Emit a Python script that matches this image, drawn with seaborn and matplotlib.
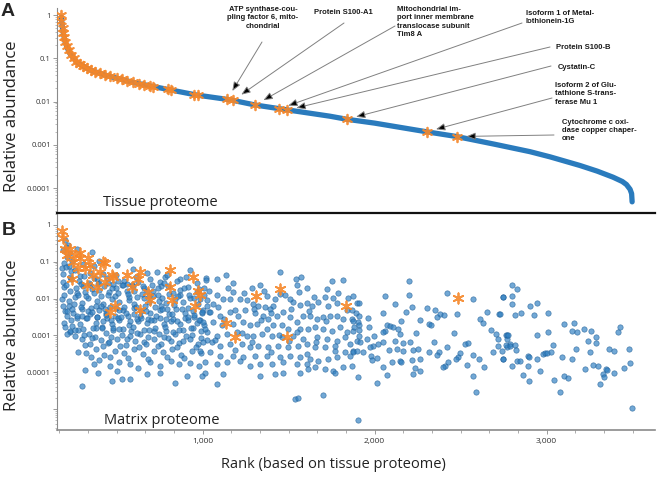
import numpy as np
import pandas as pd
import matplotlib
matplotlib.use("Agg")
import matplotlib.pyplot as plt
import matplotlib.ticker as mticker
import seaborn as sns

sns.set_theme(style="white")
plt.rcParams["font.family"] = ["Open Sans", "DejaVu Sans"]

# ---------------- data (abundances stored as log10) ----------------
# A: tissue proteome, ranked abundance curve
curve_rank = [178, 185, 190, 200, 215, 228, 250, 266, 300, 325,
              365, 403, 450, 500, 597, 694, 810, 964, 1159, 1304,
              1469, 1740, 1837, 2000, 2302, 2477, 2700, 2903, 3020, 3194,
              3294, 3386, 3440, 3464, 3485, 3494, 3497]
curve_log = [-0.05, -0.30, -0.42, -0.62, -0.78, -0.89, -1.00, -1.08, -1.17, -1.23,
             -1.30, -1.35, -1.41, -1.46, -1.56, -1.64, -1.73, -1.85, -1.96, -2.08,
             -2.18, -2.34, -2.41, -2.50, -2.70, -2.81, -2.99, -3.16, -3.28, -3.48,
             -3.61, -3.75, -3.85, -3.92, -4.03, -4.13, -4.32]

# A: proteins also found in matrix (orange asterisks)
a_star_rank = [178, 178, 185, 190, 195, 200, 210, 220, 235, 250,
               266, 285, 305, 325, 350, 375, 403, 430, 460, 500,
               530, 560, 597, 630, 660, 694, 712, 800, 815, 950,
               975, 1143, 1178, 1304, 1444, 1490, 1837, 2302, 2477]
a_star_log = [0.0, -0.15, -0.30, -0.42, -0.52, -0.62, -0.72, -0.82, -0.92, -1.00,
              -1.08, -1.13, -1.18, -1.23, -1.28, -1.32, -1.35, -1.39, -1.42, -1.46,
              -1.49, -1.52, -1.56, -1.59, -1.61, -1.64, -1.66, -1.72, -1.74, -1.84,
              -1.86, -1.95, -1.97, -2.08, -2.17, -2.20, -2.41, -2.70, -2.81]

labeled_names = ["ATP synthase-cou-\npling factor 6, mito-\nchondrial",
                 "Protein S100-A1",
                 "Mitochondrial im-\nport inner membrane\ntranslocase subunit\nTim8 A",
                 "Isoform 1 of Metal-\nlothionein-1G",
                 "Protein S100-B",
                 "Cystatin-C",
                 "Isoform 2 of Glu-\ntathione S-trans-\nferase Mu 1",
                 "Cytochrome c oxi-\ndase copper chaper-\none"]
labeled_rank = [1143, 1178, 1304, 1444, 1490, 1837, 2302, 2477]

# B: matrix proteome (blue points), grouped by region of the plot
left_rank = [199, 219, 190, 231, 267, 354, 205, 212, 243, 182,
             192, 221, 306, 368, 399, 503, 577, 592, 674, 735, 781, 871, 926,
             187, 229, 289, 342, 386, 444, 497, 541, 613, 696, 749, 793, 851, 904, 968, 1020,
             192, 226, 270, 303, 357, 400, 454, 497, 561, 603, 658, 710, 755, 807, 871, 913, 968, 1010,
             181, 221, 255, 299, 332, 386, 419, 474, 516, 570, 603, 658, 690, 745, 787, 842, 884, 929, 971, 1026,
             201, 246, 299, 342, 396, 438, 493, 535, 600, 642, 696, 749, 803, 845, 900, 942, 997, 1035,
             192, 235, 289, 322, 377, 419, 474, 516, 570, 623, 677, 719, 774, 816, 871, 913, 968, 1010,
             230, 274, 338, 380, 435, 477, 532, 584, 638, 690, 745, 787, 842, 884, 939, 991,
             299, 342, 406, 448, 503, 555, 609, 661, 716, 758, 813, 865, 929, 971, 1026,
             322, 377, 429, 493, 545, 600, 652, 716, 768, 822, 875, 939, 991,
             367, 400, 464, 516, 580, 623, 696, 749, 813, 865, 929, 981,
             315, 393, 500, 577, 674, 529, 752, 839, 907, 1013, 471, 300, 228, 275, 214]
left_log = [-0.41, -0.55, -0.68, -0.75, -0.64, -0.73, -0.59, -0.88, -0.97, -1.18,
            -1.02, -1.11, -1.05, -1.12, -0.99, -1.10, -0.96, -1.20, -1.30, -1.27, -1.42, -1.47, -1.23,
            -1.34, -1.40, -1.38, -1.31, -1.48, -1.44, -1.36, -1.52, -1.40, -1.47, -1.56, -1.35, -1.51, -1.40, -1.57, -1.43,
            -1.69, -1.79, -1.84, -1.66, -1.75, -1.77, -1.83, -1.70, -1.80, -1.79, -1.71, -1.80, -1.66, -1.88, -1.76, -1.69, -1.83, -1.72,
            -2.01, -2.06, -1.95, -2.11, -1.99, -2.07, -2.15, -2.01, -2.10, -2.03, -2.16, -1.98, -2.10, -2.06, -2.13, -2.02, -2.08, -1.99, -2.15, -2.04,
            -2.33, -2.38, -2.27, -2.43, -2.31, -2.39, -2.47, -2.30, -2.42, -2.33, -2.40, -2.31, -2.43, -2.27, -2.38, -2.34, -2.40, -2.36,
            -2.66, -2.59, -2.70, -2.54, -2.65, -2.62, -2.68, -2.58, -2.71, -2.61, -2.67, -2.59, -2.70, -2.62, -2.68, -2.58, -2.65, -2.71,
            -2.92, -2.86, -2.97, -2.81, -2.93, -2.86, -2.98, -2.88, -2.95, -2.86, -2.97, -2.89, -2.95, -2.85, -2.98, -2.88,
            -3.11, -3.24, -3.13, -3.20, -3.09, -3.25, -3.15, -3.18, -3.11, -3.22, -3.15, -3.20, -3.09, -3.24, -3.13,
            -3.47, -3.36, -3.52, -3.41, -3.47, -3.38, -3.50, -3.43, -3.45, -3.36, -3.52, -3.41, -3.47,
            -3.79, -3.68, -3.84, -3.72, -3.79, -3.88, -3.72, -3.84, -3.70, -3.77, -3.74, -3.82,
            -3.93, -4.01, -3.96, -4.19, -4.05, -4.19, -4.01, -4.28, -4.10, -4.01, -4.23, -4.37, -2.89, -3.46, -2.95]

fill_rank = [205, 232, 258, 281, 312, 338, 367, 392, 418, 447, 473, 509, 532, 561, 588, 623, 647, 706, 741, 776,
             196, 224, 252, 274, 299, 323, 351, 377, 409, 433, 462, 488, 514, 544, 572, 601, 633, 662, 688, 721,
             757, 795, 834, 871, 912, 951, 1003,
             213, 243, 271, 306, 331, 362, 388, 415, 445, 478, 506, 535, 567, 595, 621, 657, 681, 718, 752, 783,
             826, 860, 899, 944, 985,
             259, 318, 372, 421, 468, 521, 575, 629, 684, 739, 797, 853, 905, 962, 348, 459, 566, 685, 794, 892,
             186, 208, 237, 262, 291, 316, 344, 371, 397, 426, 452, 481, 507, 538, 566, 594, 619, 651, 679, 709,
             738, 766, 799, 828, 858, 889, 918, 949, 979, 1007,
             189, 214, 241, 268, 294, 327, 356, 384, 411, 440, 466, 495, 523, 552, 579, 611, 640, 668, 700, 730,
             762, 789, 821, 853, 882, 915, 947, 977,
             202, 256, 311, 359, 412, 457, 511, 562, 617, 668, 723, 777, 830, 884, 935, 990]
fill_log = [-1.15, -1.26, -1.21, -1.52, -1.38, -1.57, -1.44, -1.61, -1.33, -1.58, -1.71, -1.52, -1.64, -1.59, -1.62, -1.55, -1.88, -1.64, -1.91, -1.58,
            -1.91, -2.21, -2.14, -1.89, -2.47, -1.93, -2.26, -2.19, -1.92, -2.27, -2.22, -1.94, -2.31, -2.23, -1.95, -2.26, -2.47, -2.20, -1.93, -2.24,
            -2.19, -2.29, -2.17, -1.90, -2.25, -2.51, -2.30,
            -2.48, -2.75, -2.52, -2.83, -2.33, -2.79, -2.50, -2.76, -2.53, -2.80, -2.52, -2.82, -2.47, -2.78, -2.55, -2.84, -2.56, -2.88, -2.52, -2.77,
            -2.55, -2.84, -2.53, -2.79, -2.57,
            -3.02, -3.27, -3.05, -3.29, -3.03, -3.30, -3.02, -3.31, -3.04, -3.29, -3.06, -3.32, -3.02, -3.31, -3.60, -3.59, -3.62, -3.64, -3.58, -3.62,
            -1.55, -1.62, -1.48, -1.71, -1.60, -1.83, -1.64, -1.86, -1.58, -1.66, -1.90, -1.61, -1.85, -1.63, -1.88, -1.67, -1.95, -1.65, -1.80, -1.92,
            -1.70, -1.97, -1.66, -1.84, -1.93, -1.71, -1.89, -1.99, -1.74, -1.90,
            -2.20, -2.35, -2.28, -2.48, -2.22, -2.53, -2.36, -2.49, -2.21, -2.44, -2.57, -2.26, -2.51, -2.38, -2.60, -2.24, -2.52, -2.35, -2.58, -2.46,
            -2.28, -2.55, -2.42, -2.62, -2.29, -2.50, -2.44, -2.59,
            -2.78, -2.84, -3.00, -3.08, -2.80, -3.17, -2.83, -3.10, -2.93, -3.22, -2.79, -3.05, -2.92, -3.16, -2.81, -3.08]

mid_rank = [1449, 1135, 1081, 1178, 1017, 1284, 1333, 1372, 1540, 1571,
            1546, 1604, 1750, 1817, 1720, 1711, 1755, 1782, 1846, 1872,
            1895, 1649, 1637, 1604, 1565, 1527, 1507, 1478, 1420, 1410,
            1391, 1362, 1323, 1294, 1255, 1217, 1178, 1158, 1120, 1081,
            1062, 1023, 984, 994, 1042, 1100, 1158, 1207, 1246, 1304,
            1352, 1381, 1430, 1469, 1507, 1546, 1585, 1624, 1662, 1701,
            1740, 1779, 1817, 1866, 1905, 1003, 1062, 1110, 1178, 1236,
            1275, 1313, 1372, 1410, 1459, 1498, 1565, 1614, 1653, 1701,
            1750, 1798, 1837, 1875, 1023, 1081, 1139, 1197, 1255, 1294,
            1343, 1401, 1459, 1527, 1585, 1662, 1720, 1779, 1856, 1895,
            1003, 1052, 1100, 1158, 1226, 1275, 1323, 1381, 1439, 1498,
            1556, 1604, 1653, 1711, 1769, 1827, 1875, 984, 1042, 1100,
            1178, 1236, 1304, 1372, 1449, 1507, 1565, 1624, 1672, 1730,
            1779, 1013, 1081, 1139, 1217, 1275, 1333, 1401, 1469, 1546,
            1604, 1653, 1711, 1759, 1817, 1866, 994, 1120, 1333, 1420,
            1469, 1614, 1081, 1565, 1769, 1536, 1556, 1701,
            1035, 1092, 1148, 1189, 1241, 1297, 1355, 1398, 1452, 1513,
            1559, 1618, 1668, 1727, 1789, 1841, 1889,
            1012, 1070, 1125, 1186, 1230, 1289, 1340, 1395, 1445, 1502,
            1551, 1608, 1660, 1716, 1770, 1830, 1880]
mid_log = [-1.29, -1.35, -1.46, -1.58, -1.50, -1.71, -1.64, -1.94, -1.48, -1.42,
           -1.64, -1.71, -1.52, -1.50, -1.73, -1.96, -1.99, -2.11, -1.99, -1.93,
           -2.11, -1.96, -2.19, -2.11, -2.17, -2.08, -2.00, -1.91, -2.02, -2.19,
           -2.28, -2.23, -2.19, -2.14, -2.03, -2.00, -1.82, -2.00, -2.00, -1.91,
           -2.14, -2.19, -2.00, -2.37, -2.37, -2.46, -2.37, -2.46, -2.32, -2.39,
           -2.46, -2.55, -2.46, -2.37, -2.50, -2.64, -2.46, -2.46, -2.55, -2.50,
           -2.46, -2.46, -2.55, -2.55, -2.64, -2.64, -2.64, -2.73, -2.69, -2.64,
           -2.73, -2.69, -2.82, -2.73, -2.73, -2.82, -2.82, -2.82, -2.78, -2.82,
           -2.87, -2.78, -2.91, -2.87, -2.91, -3.01, -2.96, -2.91, -3.01, -3.01,
           -2.96, -3.01, -3.05, -3.01, -3.10, -3.05, -3.10, -3.14, -3.23, -3.14,
           -3.19, -3.19, -3.28, -3.23, -3.23, -3.32, -3.28, -3.32, -3.28, -3.32,
           -3.28, -3.23, -3.32, -3.32, -3.42, -3.46, -3.42, -3.42, -3.46, -3.55,
           -3.55, -3.60, -3.55, -3.55, -3.60, -3.55, -3.60, -3.64, -3.69, -3.64,
           -3.60, -3.73, -3.78, -3.73, -3.69, -3.83, -3.78, -3.78, -3.73, -3.78,
           -3.78, -3.87, -3.92, -3.96, -3.87, -3.83, -4.10, -4.05, -4.10, -4.05,
           -4.01, -3.92, -4.33, -4.01, -4.01, -4.72, -4.69, -4.63,
           -1.78, -2.23, -1.70, -2.31, -1.86, -2.27, -1.79, -2.40, -1.88, -2.29,
           -1.83, -2.33, -2.08, -2.21, -1.84, -2.30, -2.40,
           -2.82, -3.12, -2.55, -3.40, -2.93, -3.17, -2.58, -3.45, -2.98, -3.15,
           -2.90, -3.50, -3.18, -2.60, -3.30, -3.05, -2.76]

upper_rank = [2197, 2199, 2059, 2118, 2218, 2418, 2476, 2573, 2656, 2722,
              2744, 1866, 1908, 1908, 1908, 1872, 1963, 1968, 2046, 2153,
              2185, 2263, 2306, 2350, 2317, 2327, 2379, 2403, 2364, 2069,
              2089, 2104, 2059, 2050, 2137, 2238, 2147, 1910, 1910, 1914,
              1953, 1996, 2021, 2050, 1992, 1972, 1934, 1875, 1895, 1856,
              1976, 1982, 2011, 2085, 2118, 2127, 2166, 2166, 2205, 2224,
              2253, 2317, 2344, 2375, 2422, 2461, 2525, 2544, 2496, 2486,
              2472, 2428, 2408, 2395, 2364, 2263, 2215, 2147, 2156, 2046,
              2098, 2573, 2608, 2635, 2612, 2631, 2674, 2705, 2715, 2763,
              2771, 2718, 2689, 2747, 2771, 2786, 2534, 2234, 2263, 2224,
              2073, 2011, 1904, 2573, 2589, 1904]
upper_log = [-1.51, -1.89, -1.94, -2.15, -2.23, -1.85, -2.41, -2.02, -2.37, -2.42,
             -1.96, -2.30, -2.11, -2.46, -2.73, -2.60, -2.53, -2.78, -2.39, -2.60,
             -2.37, -2.57, -2.26, -2.30, -2.69, -2.73, -2.41, -2.44, -2.50, -2.73,
             -2.75, -2.78, -2.87, -2.91, -2.82, -2.94, -2.96, -2.85, -3.01, -3.19,
             -3.11, -3.01, -3.23, -3.19, -3.28, -3.32, -3.46, -3.46, -3.42, -3.55,
             -3.55, -3.66, -3.62, -3.39, -3.14, -3.37, -3.21, -3.42, -3.19, -3.39,
             -3.37, -3.46, -3.19, -3.46, -3.31, -2.93, -3.23, -3.21, -3.49, -3.60,
             -3.64, -3.73, -3.84, -3.87, -3.53, -3.64, -3.67, -3.69, -3.73, -3.87,
             -3.73, -3.53, -3.64, -3.87, -2.55, -2.66, -2.85, -2.96, -3.10, -2.98,
             -3.11, -3.28, -3.46, -3.64, -3.32, -3.23, -3.81, -3.89, -3.98, -4.05,
             -4.08, -4.28, -4.12, -4.10, -4.54, -5.30]

tail_rank = [2797, 2826, 2745, 2797, 2797, 2903, 2942, 2816, 2849, 2927,
             3006, 2729, 3101, 3161, 3146, 3179, 3217, 3258, 3285, 3239,
             3285, 3417, 3427, 2768, 2777, 2946, 3008, 2762, 2787, 2816,
             2822, 3039, 3171, 3252, 3365, 3394, 3477, 2739, 2748, 2826,
             2845, 2894, 2900, 2946, 2977, 2991, 3000, 3024, 3089, 3148,
             2799, 2890, 2962, 3223, 3268, 3301, 3345, 3353, 3450, 3485,
             2861, 2896, 3041, 3101, 3126, 3326, 3334, 3392, 3310, 3078,
             3498]
tail_log = [-1.64, -1.73, -1.96, -1.94, -2.16, -2.19, -2.12, -2.44, -2.40, -2.45,
            -2.38, -2.41, -2.70, -2.67, -2.87, -2.91, -2.83, -2.89, -3.03, -3.16,
            -3.21, -2.91, -2.77, -2.99, -2.98, -2.99, -2.92, -3.26, -3.30, -3.25,
            -3.39, -3.26, -3.37, -3.46, -3.37, -3.42, -3.36, -3.42, -3.64, -3.69,
            -3.70, -3.55, -3.60, -3.64, -3.51, -3.49, -3.48, -3.46, -3.60, -3.64,
            -3.84, -3.83, -3.97, -3.92, -3.80, -3.84, -3.92, -3.93, -3.88, -3.76,
            -4.07, -4.24, -4.21, -4.10, -4.17, -4.04, -4.14, -4.02, -4.33, -4.54,
            -4.96]

# B: proteins also found in tissue top list (orange asterisks)
b_star_rank = [180, 190, 199, 209, 228, 257, 248, 286, 277, 315,
               335, 345, 364, 422, 403, 471, 480, 432, 383, 325,
               238, 558, 635, 626, 587, 684, 693, 490, 461, 635,
               810, 810, 819, 945, 984, 955, 975, 287, 432, 1138,
               1188, 1310, 1450, 1492, 1833, 2482]
b_star_log = [-0.16, -0.36, -0.64, -0.82, -0.64, -0.82, -1.00, -0.91, -1.18, -1.18,
              -0.91, -1.09, -1.37, -1.00, -1.28, -1.37, -1.41, -1.55, -1.68, -1.64,
              -1.46, -1.37, -1.28, -1.46, -1.68, -1.82, -2.05, -2.19, -2.37, -2.32,
              -1.23, -1.68, -2.05, -1.41, -1.91, -2.19, -1.78, -0.77, -1.03, -2.67,
              -3.05, -1.94, -1.75, -3.05, -2.19, -1.98]

# ---------------- frames ----------------
tissue = pd.DataFrame({"rank": curve_rank, "abund": 10.0 ** np.array(curve_log)})
tissue_star = pd.DataFrame({"rank": a_star_rank, "abund": 10.0 ** np.array(a_star_log)})
matrix = pd.DataFrame({
    "rank": left_rank + fill_rank + mid_rank + upper_rank + tail_rank,
    "abund": 10.0 ** np.array(left_log + fill_log + mid_log + upper_log + tail_log),
})
matrix_star = pd.DataFrame({"rank": b_star_rank, "abund": 10.0 ** np.array(b_star_log)})
star_lookup = dict(zip(a_star_rank, a_star_log))

# ---------------- style ----------------
BLUE = "#2a7bbd"
ORANGE = "#f5872a"
GREY = "#8a8a8a"
W, H = 660, 478


def fx(px):
    return px / W


def fy(py):
    return 1 - py / H


fig = plt.figure(figsize=(6.6, 4.78), dpi=100)
ax_a = fig.add_axes([fx(57), fy(213), (655 - 57) / W, (213 - 8) / H])
ax_b = fig.add_axes([fx(57), fy(430), (655 - 57) / W, (430 - 213) / H])

# panel A
sns.lineplot(data=tissue, x="rank", y="abund", ax=ax_a, color=BLUE, linewidth=3.8,
             estimator=None, solid_capstyle="round", zorder=2)
sns.scatterplot(data=tissue_star, x="rank", y="abund", ax=ax_a, marker=(6, 2, 0), s=48,
                color=ORANGE, linewidth=1.3, alpha=0.9, zorder=3, legend=False)

# panel B
sns.scatterplot(data=matrix, x="rank", y="abund", ax=ax_b, s=15, color="#2f7fc1",
                edgecolor="#1d5c96", linewidth=0.5, alpha=0.68, zorder=2, legend=False)
sns.scatterplot(data=matrix_star, x="rank", y="abund", ax=ax_b, marker=(6, 2, 0), s=55,
                color=ORANGE, linewidth=1.3, alpha=0.9, zorder=3, legend=False)

for ax, lo, hi in [(ax_a, -4.578, 0.162), (ax_b, -5.57, 0.326)]:
    ax.set_yscale("log")
    ax.set_ylim(10 ** lo, 10 ** hi)
    ax.set_xlim(153, 3630)
    ax.set_xlabel("")
    ax.set_ylabel("")
    ax.yaxis.set_minor_locator(mticker.LogLocator(base=10, subs=np.arange(2, 10), numticks=20))
    ax.yaxis.set_minor_formatter(mticker.NullFormatter())
    ax.tick_params(axis="y", which="major", direction="out", length=3, width=0.6,
                   color=GREY, labelsize=5.5, pad=1.5, labelcolor="#333333", left=True)
    ax.tick_params(axis="y", which="minor", direction="out", length=1.6, width=0.4,
                   color=GREY, left=True)
    for side in ["top", "right"]:
        ax.spines[side].set_visible(False)
    ax.spines["left"].set_color(GREY)
    ax.spines["left"].set_linewidth(0.8)
    ax.patch.set_alpha(0)

ax_a.yaxis.set_major_locator(mticker.FixedLocator([1e-4, 1e-3, 1e-2, 1e-1, 1]))
ax_a.yaxis.set_major_formatter(mticker.FixedFormatter(["0.0001", "0.001", "0.01", "0.1", "1"]))
ax_b.yaxis.set_major_locator(mticker.FixedLocator([1e-5, 1e-4, 1e-3, 1e-2, 1e-1, 1]))
ax_b.yaxis.set_major_formatter(mticker.FixedFormatter(["", "0.0001", "0.001", "0.01", "0.1", "1"]))

ax_a.tick_params(axis="x", which="both", bottom=False, labelbottom=False)
ax_a.spines["bottom"].set_color("#111111")
ax_a.spines["bottom"].set_linewidth(1.6)
ax_a.set_zorder(2)

ax_b.spines["top"].set_visible(False)
ax_b.spines["bottom"].set_color(GREY)
ax_b.spines["bottom"].set_linewidth(1.2)
ax_b.xaxis.set_major_locator(mticker.FixedLocator([1000, 2000, 3000]))
ax_b.xaxis.set_major_formatter(mticker.FixedFormatter(["1,000", "2,000", "3,000"]))
ax_b.xaxis.set_minor_locator(mticker.MultipleLocator(1000 / 6))
ax_b.tick_params(axis="x", which="major", direction="out", length=3, width=0.6, color=GREY,
                 labelsize=6, pad=3, labelcolor="#333333", bottom=True)
ax_b.tick_params(axis="x", which="minor", direction="out", length=2, width=0.5, color=GREY,
                 bottom=True)

# callouts on panel A: text position, alignment and line start (figure pixels)
callouts = [
    dict(text=(263, 6), ha="center", va="top", start=(262, 42)),
    dict(text=(343, 13), ha="center", va="center", start=(344, 23)),
    dict(text=(397, 6), ha="left", va="top", start=(395, 26)),
    dict(text=(526, 10), ha="left", va="top", start=(522, 23)),
    dict(text=(556, 47), ha="left", va="center", start=(550, 47)),
    dict(text=(558, 67), ha="left", va="center", start=(551, 66)),
    dict(text=(555, 82), ha="left", va="top", start=(552, 98)),
    dict(text=(562, 119), ha="left", va="top", start=(554, 135)),
]
for name, rank, c in zip(labeled_names, labeled_rank, callouts):
    ax_a.annotate("", xy=(rank, 10 ** star_lookup[rank]), xycoords="data",
                  xytext=(fx(c["start"][0]), fy(c["start"][1])), textcoords="figure fraction",
                  arrowprops=dict(arrowstyle="-|>,head_length=0.45,head_width=0.18",
                                  edgecolor="#808080", facecolor="black", lw=0.7,
                                  shrinkA=0, shrinkB=7), zorder=4)
    fig.text(fx(c["text"][0]), fy(c["text"][1]), name, ha=c["ha"], va=c["va"],
             fontsize=5.5, fontweight="bold", linespacing=1.25, color="#1a1a1a",
             family=["Liberation Sans", "DejaVu Sans"])

# labels
fig.text(fx(12), fy(116), "Relative abundance", rotation=90, ha="center", va="center",
         fontsize=12, color="#222222")
fig.text(fx(12), fy(335), "Relative abundance", rotation=90, ha="center", va="center",
         fontsize=12, color="#222222")
fig.text(fx(8), fy(11), "A", ha="center", va="center", fontsize=14, fontweight="bold",
         family=["Liberation Sans", "DejaVu Sans"])
fig.text(fx(9), fy(231), "B", ha="center", va="center", fontsize=14, fontweight="bold",
         family=["Liberation Sans", "DejaVu Sans"])
fig.text(fx(160), fy(203), "Tissue proteome", ha="center", va="center", fontsize=10.5,
         color="#222222")
fig.text(fx(162), fy(420), "Matrix proteome", ha="center", va="center", fontsize=10.5,
         color="#222222")
fig.text(fx(333), fy(465), "Rank (based on tissue proteome)", ha="center", va="center",
         fontsize=10.5, color="#222222")

fig.savefig("out.png", dpi=100, facecolor="white")
